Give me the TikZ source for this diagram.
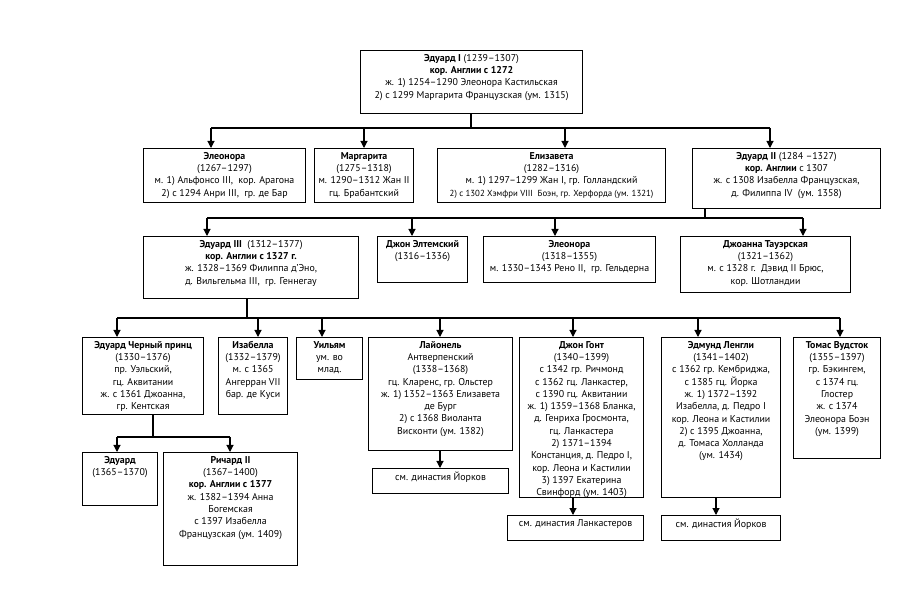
\documentclass[tikz,border=0pt]{standalone}
\usepackage{fontspec}
\setmainfont{PT Sans}
\usetikzlibrary{arrows.meta}
\newcommand\pbox[6]{%
  \node[bx, minimum width=#4pt, minimum height=#5pt] (#1) at (#2,#3) {};
  \node[tx] (#1t) at ([yshift=-4pt]#1.north) {#6};}
\begin{document}
\begin{tikzpicture}[x=1pt,y=-1pt,
  bx/.style={draw, line width=1.1pt, inner sep=0pt, anchor=north west, fill=white},
  tx/.style={anchor=north, align=center, inner sep=0pt, font=\fontsize{9.9}{12.3}\selectfont},
  ln/.style={line width=1.1pt},
  ar/.style={line width=1.1pt, -{Triangle[width=7pt,length=7pt]}}]
\fill[white] (0,0) rectangle (900,601);
\useasboundingbox (0,0) rectangle (900,601);
% row 1
\pbox{e1}{360}{50}{222}{63}{\textbf{Эдуард I} (1239–1307)\\\textbf{кор. Англии с 1272}\\ж. 1) 1254–1290 Элеонора Кастильская\\2) с 1299 Маргарита Французская (ум. 1315)}
% row 2
\pbox{elA}{143}{148}{162}{54}{\textbf{Элеонора}\\(1267–1297)\\м. 1) Альфонсо III,\ \ кор. Арагона\\2) с 1294 Анри III,\ \ гр. де Бар}
\pbox{mar}{314}{148}{99}{54}{\textbf{Маргарита}\\(1275–1318)\\м. 1290–1312 Жан II\\гц. Брабантский}
\pbox{eli}{437}{148}{228}{54}{\textbf{Елизавета}\\(1282–1316)\\м. 1) 1297–1299 Жан I, гр. Голландский\\{\fontsize{8.8}{12.3}\selectfont 2) с 1302 Хэмфри VIII\ \ Боэн, гр. Херфорда (ум. 1321)}}
\pbox{eB}{692}{148}{188}{60}{\textbf{Эдуард II} (1284 –1327)\\\textbf{кор. Англии} с 1307\\ж. с 1308 Изабелла Французская,\\д. Филиппа IV\ \ (ум. 1358)}
% row 3
\pbox{eC}{143}{236}{215}{62}{\textbf{Эдуард III}\ \ (1312–1377)\\\textbf{кор. Англии с 1327 г.}\\ж. 1328–1369 Филиппа д’Эно,\\д. Вильгельма III,\ \ гр. Геннегау}
\pbox{jel}{377}{236}{90}{46}{\textbf{Джон Элтемский}\\(1316–1336)}
\pbox{elB}{483}{236}{172}{46}{\textbf{Элеонора}\\(1318–1355)\\м. 1330–1343 Рено II,\ \ гр. Гельдерна}
\pbox{jo}{680}{236}{170}{56}{\textbf{Джоанна Тауэрская}\\(1321–1362)\\м. с 1328 г.\ \ Дэвид II Брюс,\\кор. Шотландии}
% row 4
\pbox{bp}{82}{337}{121}{77}{\textbf{Эдуард Черный принц}\\(1330–1376)\\пр. Уэльский,\\гц. Аквитании\\ж. с 1361 Джоанна,\\гр. Кентская}
\pbox{isa}{218}{337}{69}{77}{\textbf{Изабелла}\\(1332–1379)\\м. с 1365\\Ангерран VII\\бар. де Куси}
\pbox{wil}{296}{337}{66}{42}{\textbf{Уильям}\\ум. во\\млад.}
\pbox{lio}{368}{337}{144}{113}{\textbf{Лайонель}\\Антверпенский\\(1338–1368)\\гц. Кларенс, гр. Ольстер\\ж. 1) 1352–1363 Елизавета\\де Бург\\2) с 1368 Виоланта\\Висконти (ум. 1382)}
\pbox{gau}{519}{337}{124}{160}{\textbf{Джон Гонт}\\(1340–1399)\\с 1342 гр. Ричмонд\\с 1362 гц. Ланкастер,\\с 1390 гц. Аквитании\\ж. 1) 1359–1368 Бланка,\\д. Генриха Гросмонта,\\гц. Ланкастера\\2) 1371–1394\\Констанция, д. Педро I,\\кор. Леона и Кастилии\\3) 1397 Екатерина\\Свинфорд (ум. 1403)}
\pbox{edm}{661}{337}{119}{160}{\textbf{Эдмунд Ленгли}\\(1341–1402)\\с 1362 гр. Кембриджа,\\с 1385 гц. Йорка\\ж. 1) 1372–1392\\Изабелла, д. Педро I\\кор. Леона и Кастилии\\2) с 1395 Джоанна,\\д. Томаса Холланда\\(ум. 1434)}
\pbox{tho}{793}{337}{87}{121}{\textbf{Томас Вудсток}\\(1355–1397)\\гр. Бэкингем,\\с 1374 гц.\\Глостер\\ж. с 1374\\Элеонора Боэн\\(ум. 1399)}
% row 5
\pbox{edw}{82}{452}{75}{53}{\textbf{Эдуард}\\(1365–1370)}
\pbox{ric}{163}{452}{134}{113}{\textbf{Ричард II}\\(1367–1400)\\\textbf{кор. Англии с 1377}\\ж. 1382–1394 Анна\\Богемская\\с 1397 Изабелла\\Французская (ум. 1409)}
\pbox{yA}{372}{468}{136}{25}{см. династия Йорков}
\pbox{lan}{507}{515}{136}{25}{см. династия Ланкастеров}
\pbox{yB}{661}{515}{119}{25}{см. династия Йорков}
% connectors: row 1 -> row 2
\coordinate (b1) at (471,128);
\draw[ln] (e1.south -| b1) -- (b1);
\draw[ln] (211,128) -- (770,128);
\foreach \n/\x in {elA/211, mar/364, eli/565, eB/770}
  \draw[ar] (\x,128) -- (\x,148 |- \n.north);
% row 2 -> row 3
\coordinate (b2) at (705,218);
\draw[ln] (eB.south -| b2) -- (b2);
\draw[ln] (207,218) -- (803,218);
\foreach \n/\x in {eC/207, jel/412, elB/555, jo/803}
  \draw[ar] (\x,218) -- (\x,236 |- \n.north);
% row 3 -> row 4
\coordinate (b3) at (247,318);
\draw[ln] (eC.south -| b3) -- (b3);
\draw[ln] (117,318) -- (840,318);
\foreach \n/\x in {bp/117, isa/258, wil/322, lio/440, gau/573, edm/698, tho/840}
  \draw[ar] (\x,318) -- (\x,337 |- \n.north);
% black prince -> children
\coordinate (b4) at (153,437);
\draw[ln] (bp.south -| b4) -- (b4);
\draw[ln] (117,437) -- (230,437);
\foreach \n/\x in {edw/117, ric/230}
  \draw[ar] (\x,437) -- (\x,452 |- \n.north);
% dynasties
\draw[ar] (lio.south -| 440,0) -- (yA.north -| 440,0);
\draw[ar] (gau.south -| 573,0) -- (lan.north -| 573,0);
\draw[ar] (edm.south -| 716,0) -- (yB.north -| 716,0);
\end{tikzpicture}
\end{document}
